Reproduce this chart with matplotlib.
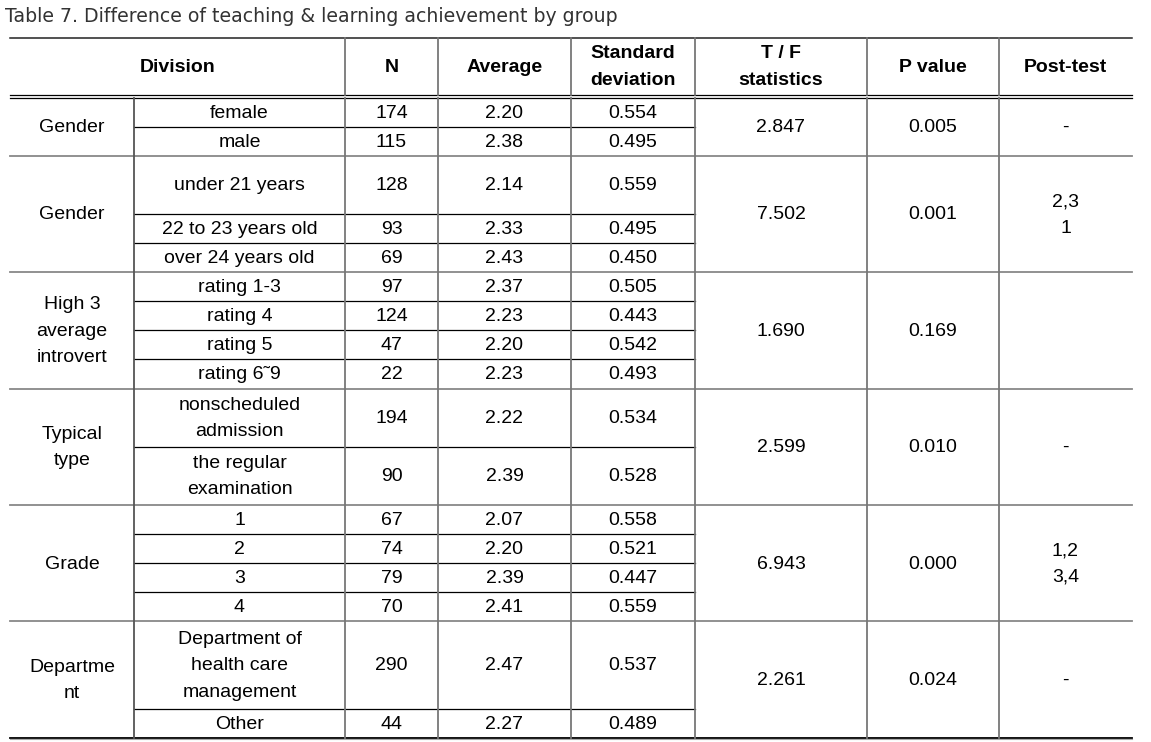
import matplotlib
matplotlib.use("Agg")
from matplotlib import pyplot as plt

title = "Table 7. Difference of teaching & learning achievement by group"
headers = ["Division", "N", "Average", "Standard\ndeviation", "T / F\nstatistics", "P value", "Post-test"]

groups = ["Gender", "Gender", "High 3\naverage\nintrovert", "Typical\ntype", "Grade", "Departme\nnt"]
subgroups = [["female", "male"],
             ["under 21 years", "22 to 23 years old", "over 24 years old"],
             ["rating 1-3", "rating 4", "rating 5", "rating 6\u02dc9"],
             ["nonscheduled\nadmission", "the regular\nexamination"],
             ["1", "2", "3", "4"],
             ["Department of\nhealth care\nmanagement", "Other"]]
n_values = [[174, 115], [128, 93, 69], [97, 124, 47, 22], [194, 90], [67, 74, 79, 70], [290, 44]]
averages = [[2.20, 2.38], [2.14, 2.33, 2.43], [2.37, 2.23, 2.20, 2.23], [2.22, 2.39],
            [2.07, 2.20, 2.39, 2.41], [2.47, 2.27]]
std_devs = [[0.554, 0.495], [0.559, 0.495, 0.450], [0.505, 0.443, 0.542, 0.493], [0.534, 0.528],
            [0.558, 0.521, 0.447, 0.559], [0.537, 0.489]]
tf_stats = [2.847, 7.502, 1.690, 2.599, 6.943, 2.261]
p_values = [0.005, 0.001, 0.169, 0.010, 0.000, 0.024]
post_tests = ["-", "2,3\n1", "", "-", "1,2\n3,4", "-"]

# layout (pixels)
row_units = [[1, 1], [2, 1, 1], [1, 1, 1, 1], [2, 2], [1, 1, 1, 1], [3, 1]]
cols = [10, 134, 345, 438, 571, 695, 867, 999, 1132]
top = 37.5
head_bottom = 97.5
unit = 29.1
fs = 14
font = "Liberation Sans"

fig = plt.figure(figsize=(11.51, 7.42), dpi=100)
ax = fig.add_axes([0, 0, 1, 1])
ax.set_xlim(0, 1151)
ax.set_ylim(742, 0)
ax.axis("off")

def cell(x0, x1, y0, y1, s, **kw):
    ax.text((x0 + x1) / 2, (y0 + y1) / 2 + 1, s, ha="center", va="center", fontsize=fs,
            family=font, linespacing=1.72, color="black", **kw)

ax.text(5, 16, title, ha="left", va="center", fontsize=13.6, family="DejaVu Sans", color="#333333")

# header
ax.plot([cols[0], cols[-1]], [top, top], color="#222222", lw=1.1)
ax.plot([cols[0], cols[-1]], [head_bottom - 3, head_bottom - 3], color="black", lw=0.9)
ax.plot([cols[0], cols[-1]], [head_bottom, head_bottom], color="black", lw=0.9)
cell(cols[0], cols[2], top, head_bottom - 3, headers[0], weight="bold")
for i, h in enumerate(headers[1:]):
    cell(cols[i + 2], cols[i + 3], top, head_bottom - 3, h, weight="bold")

y = head_bottom
for g in range(len(groups)):
    g_top = y
    for k, sub in enumerate(subgroups[g]):
        h = row_units[g][k] * unit
        cell(cols[1], cols[2], y, y + h, sub)
        cell(cols[2], cols[3], y, y + h, str(n_values[g][k]))
        cell(cols[3], cols[4], y, y + h, "%.2f" % averages[g][k])
        cell(cols[4], cols[5], y, y + h, "%.3f" % std_devs[g][k])
        y += h
        if k < len(subgroups[g]) - 1:
            ax.plot([cols[1], cols[5]], [y, y], color="black", lw=0.9)
    cell(cols[0], cols[1], g_top, y, groups[g])
    cell(cols[5], cols[6], g_top, y, "%.3f" % tf_stats[g])
    cell(cols[6], cols[7], g_top, y, "%.3f" % p_values[g])
    cell(cols[7], cols[8], g_top, y, post_tests[g])
    if g < len(groups) - 1:
        ax.plot([cols[0], cols[-1]], [y, y], color="#888888", lw=1.3)
    else:
        ax.plot([cols[0], cols[-1]], [y, y], color="black", lw=1.3)
        ax.plot([cols[0], cols[-1]], [y + 1.2, y + 1.2], color="#aaaaaa", lw=0.8)

bottom = y
for i, x in enumerate(cols[1:-1]):
    if i > 0:
        ax.plot([x, x], [top, head_bottom - 3], color="#777777", lw=1.3)
    ax.plot([x, x], [head_bottom, bottom], color="#555555" if i == 0 else "#777777", lw=1.3)

fig.savefig("out.png", dpi=100, facecolor="white")
